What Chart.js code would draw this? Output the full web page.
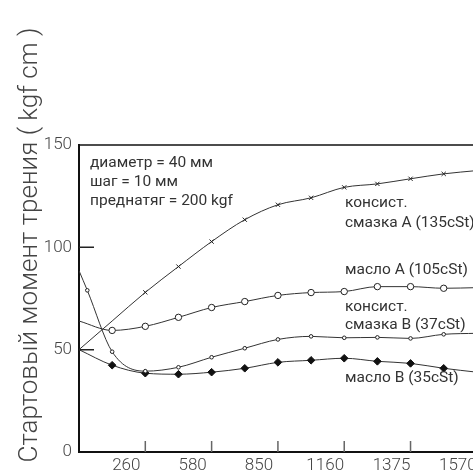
<!DOCTYPE html>
<html>
<head>
<meta charset="utf-8">
<script src="https://cdn.jsdelivr.net/npm/chart.js@4"></script>
<style>
  html, body { margin: 0; padding: 0; background: #fff; overflow: hidden; width: 473px; height: 471px; }
  canvas { display: block; }
</style>
</head>
<body>
<canvas id="chart" width="515" height="471"></canvas>
<script>
'use strict';

// x: positions in half-steps between the labelled ticks
const positions = [0, 1, 2, 3, 4, 5, 6, 7, 8, 9, 10, 11, 12];
const xTickLabels = ['', '260', '580', '850', '1160', '1375', '1570'];

const greaseA = [50, 64, 78, 90.6, 102.8, 113.5, 120.8, 124.2, 129.3, 131, 133.5, 135.9, 137.5];
const oilA = [64, 59.4, 61.4, 65.8, 70.6, 73.5, 76.5, 77.9, 78.4, 80.8, 80.8, 80, 80.3];
const greaseBPositions = [0, 0.25, 1, 2, 3, 4, 5, 6, 7, 8, 9, 10, 11, 12];
const greaseB = [88.6, 79, 49, 39.5, 41.4, 46.3, 50.7, 55, 56.5, 55.8, 56, 55.5, 57.5, 58];
const oilB = [50, 42.4, 38.5, 38, 39, 40.9, 43.8, 44.8, 45.8, 44.3, 43.3, 40.9, 39];

const yTitle = 'Стартовый момент трения ( kgf cm )';
const notes = ['диаметр = 40 мм', 'шаг = 10 мм', 'преднатяг = 200 kgf'];
const seriesNames = [
  ['консист.', 'смазка A (135cSt)'],
  ['масло A (105cSt)'],
  ['консист.', 'смазка B (37cSt)'],
  ['масло B (35cSt)'],
];

const LINE = '#333';
const TEXT = '#444';

const toPoints = (xs, ys) => ys.map((v, i) => ({ x: xs[i], y: v }));
// no marker on the first `skip` points
const markerFrom = (skip, r) => ctx => (ctx.dataIndex < skip ? 0 : r);

const frame = {
  id: 'frame',
  afterDraw(chart) {
    const { ctx, chartArea: a, scales: { x, y } } = chart;
    ctx.save();
    ctx.strokeStyle = '#111';
    ctx.lineWidth = 1.5;
    ctx.beginPath();
    ctx.moveTo(a.left, a.top);
    ctx.lineTo(a.right, a.top);
    ctx.stroke();

    ctx.strokeStyle = '#666';
    ctx.beginPath();
    x.ticks.forEach(t => {
      if (t.value <= 0) return;
      const px = x.getPixelForValue(t.value);
      ctx.moveTo(px, a.bottom);
      ctx.lineTo(px, a.bottom - 11);
    });
    ctx.stroke();
    ctx.strokeStyle = '#222';
    ctx.beginPath();
    y.ticks.forEach(t => {
      if (t.value <= 0 || t.value >= 150) return;
      const py = y.getPixelForValue(t.value);
      ctx.moveTo(a.left, py);
      ctx.lineTo(a.left + 15, py);
    });
    ctx.stroke();

    // y title
    ctx.fillStyle = TEXT;
    ctx.font = '300 26px Roboto';
    ctx.textAlign = 'center';
    ctx.textBaseline = 'middle';
    ctx.save();
    ctx.translate(30, 245);
    ctx.rotate(-Math.PI / 2);
    ctx.fillText(yTitle, 0, 0);
    ctx.restore();

    // notes
    ctx.fillStyle = '#333';
    ctx.font = '15.5px Roboto';
    ctx.textAlign = 'left';
    notes.forEach((s, i) => ctx.fillText(s, 90, 163 + i * 19));

    const labelY = [[203, 223], [270], [307, 325], [378]];
    seriesNames.forEach((lines, i) => {
      lines.forEach((s, j) => ctx.fillText(s, 345, labelY[i][j]));
    });
    ctx.restore();
  }
};

new Chart(document.getElementById('chart'), {
  type: 'line',
  data: {
    datasets: [
      {
        label: 'консист. смазка A (135cSt)',
        data: toPoints(positions, greaseA),
        pointStyle: 'crossRot',
        pointRadius: markerFrom(2, 3),
      },
      {
        label: 'масло A (105cSt)',
        data: toPoints(positions, oilA),
        pointStyle: 'circle',
        pointRadius: markerFrom(1, 3.2),
        pointBackgroundColor: '#fff',
      },
      {
        label: 'консист. смазка B (37cSt)',
        data: toPoints(greaseBPositions, greaseB),
        pointStyle: 'circle',
        pointRadius: markerFrom(1, 1.8),
        pointBackgroundColor: '#fff',
      },
      {
        label: 'масло B (35cSt)',
        data: toPoints(positions, oilB),
        pointStyle: 'rectRot',
        pointRadius: markerFrom(1, 3.8),
        pointBackgroundColor: '#111',
        pointBorderColor: '#111',
      },
    ].map(ds => Object.assign({
      borderColor: LINE,
      borderWidth: 1,
      pointBorderColor: '#222',
      pointBorderWidth: 1,
      pointBackgroundColor: '#222',
      cubicInterpolationMode: 'monotone',
      fill: false,
    }, ds)),
  },
  options: {
    responsive: false,
    animation: false,
    layout: { padding: { top: 145, left: 0, right: 0, bottom: 0 } },
    plugins: { legend: { display: false }, tooltip: { enabled: false } },
    scales: {
      x: {
        type: 'linear',
        min: 0,
        max: 13,
        grid: { display: false, drawTicks: false },
        border: { display: true, color: '#111', width: 2 },
        ticks: {
          stepSize: 2,
          includeBounds: false,
          autoSkip: false,
          maxRotation: 0,
          padding: 4,
          labelOffset: -19,
          color: TEXT,
          font: { family: 'Roboto', size: 17, weight: '300' },
          callback: v => xTickLabels[v / 2] || '',
        },
        afterFit: s => { s.height = 19; },
      },
      y: {
        min: 0,
        max: 150,
        grid: { display: false, drawTicks: false },
        border: { display: true, color: '#111', width: 2 },
        ticks: {
          stepSize: 50,
          padding: 7,
          color: TEXT,
          font: { family: 'Roboto', size: 17, weight: '300' },
        },
        afterFit: s => { s.width = 79; },
      },
    },
  },
  plugins: [frame],
});
</script>
</body>
</html>
